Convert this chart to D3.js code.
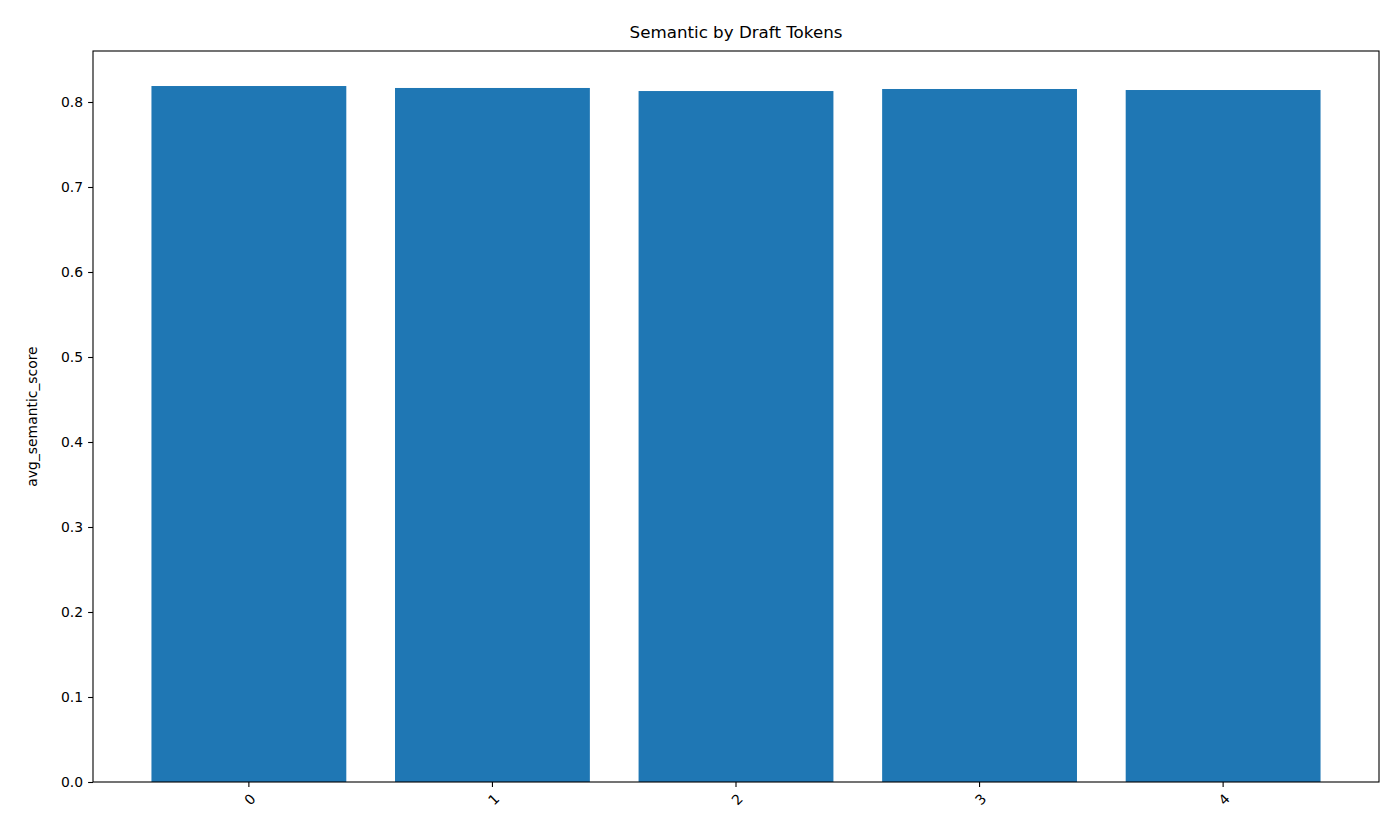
<!DOCTYPE html>
<html><head><meta charset="utf-8">
<script src="https://cdn.jsdelivr.net/npm/d3@7"></script>
<style>body{margin:0;background:#fff}text{font-family:"DejaVu Sans",sans-serif}</style>
</head><body><svg id="c" width="1400" height="840"></svg>
<script>
const categories = ["0","1","2","3","4"];
const values = [0.8188, 0.8165, 0.8129, 0.8153, 0.8141];
const yTicks = [0,0.1,0.2,0.3,0.4,0.5,0.6,0.7,0.8];
const svg = d3.select("#c");
const L=93,R=1379,T=51,B=782;
const x = d3.scaleBand().domain(categories).range([L,R]).paddingInner(0.2).paddingOuter(0.24);
const y = d3.scaleLinear().domain([0,0.86]).range([B,T]);
svg.selectAll("rect.bar").data(values).join("rect").attr("class","bar")
 .attr("x",(d,i)=>x(categories[i])).attr("width",x.bandwidth())
 .attr("y",d=>y(d)).attr("height",d=>B-y(d)).attr("fill","#1f77b4");
const ya = svg.append("g").attr("transform",`translate(${L},0)`)
 .call(d3.axisLeft(y).tickValues(yTicks).tickFormat(d3.format(".1f")).tickSize(4.9).tickPadding(5));
ya.selectAll("text").attr("font-size",13.9).attr("fill","#000");
const xa = svg.append("g").attr("transform",`translate(0,${B})`)
 .call(d3.axisBottom(x).tickSize(4.9).tickPadding(4));
xa.selectAll("text").attr("font-size",13.9).attr("fill","#000")
 .attr("text-anchor","end").attr("dy","0.35em")
 .attr("transform","translate(-2,8) rotate(-45)");
[ya,xa].forEach(a=>{a.select(".domain").remove();a.selectAll("line").attr("stroke","#000").attr("stroke-width",1.1);});
svg.append("rect").attr("x",L).attr("y",T).attr("width",R-L).attr("height",B-T)
 .attr("fill","none").attr("stroke","#000").attr("stroke-width",1.1);
svg.append("text").attr("x",(L+R)/2).attr("y",38).attr("text-anchor","middle").attr("font-size",16.7).text("Semantic by Draft Tokens");
svg.append("text").attr("transform",`translate(37,${(T+B)/2}) rotate(-90)`).attr("text-anchor","middle").attr("font-size",13.9).text("avg_semantic_score");
</script></body></html>
